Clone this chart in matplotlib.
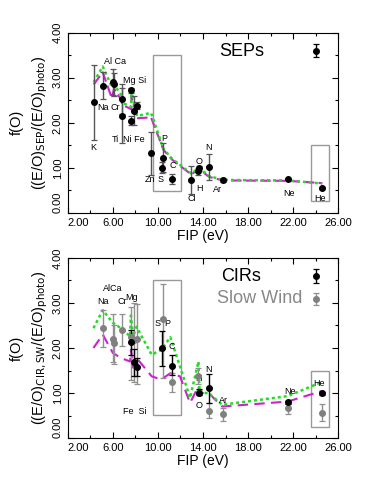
import matplotlib.pyplot as plt
from matplotlib.patches import Rectangle
from matplotlib.ticker import FixedLocator, FormatStrFormatter

plt.rcParams['font.family'] = ['Liberation Sans', 'DejaVu Sans']

# ---- SEP panel data ----
sep_fip = [4.34, 5.14, 5.99, 6.11, 6.77, 6.83, 7.64, 7.65, 7.90, 8.15, 9.39,
           10.36, 10.49, 11.26, 12.97, 13.60, 13.62, 14.53, 15.76, 21.56, 24.59]
sep_val = [2.45, 2.82, 2.91, 2.85, 2.52, 2.16, 2.05, 2.72, 2.27, 2.37, 1.32,
           0.99, 1.22, 0.75, 0.72, 0.92, 1.00, 1.01, 0.72, 0.75, 0.56]
sep_lo = [1.62, 2.52, 2.62, 2.60, 2.20, 1.55, 1.95, 2.65, 1.95, 2.30, 0.85,
          0.88, 0.90, 0.65, 0.42, 0.85, 0.92, 0.72, 0.68, 0.72, 0.54]
sep_hi = [3.28, 3.12, 3.20, 3.10, 2.85, 2.78, 2.15, 2.78, 2.60, 2.45, 1.80,
          1.12, 1.55, 0.86, 1.03, 1.00, 1.03, 1.30, 0.78, 0.78, 0.58]

sep_model_x = [4.30, 5.10, 5.90, 6.11, 6.77, 6.83, 7.64, 7.65, 7.90, 8.15,
               9.39, 10.49, 11.26, 12.97, 13.62, 14.53, 15.76, 21.56, 24.59]
sep_green = [2.90, 3.25, 2.80, 2.85, 2.60, 2.45, 2.35, 2.72, 2.45, 2.15,
             2.22, 1.42, 1.20, 0.87, 1.00, 0.82, 0.73, 0.72, 0.65]
sep_magenta = [2.85, 3.12, 2.55, 2.75, 2.50, 2.40, 2.30, 2.60, 2.35, 2.10,
               2.12, 1.40, 1.18, 0.85, 0.98, 0.80, 0.72, 0.71, 0.66]

sep_labels = [("Al Ca", 6.2, 3.36), ("Na", 5.1, 2.33), ("Cr", 6.2, 2.33),
              ("Mg Si", 7.97, 2.94), ("K", 4.22, 1.44), ("Ti", 6.2, 1.63),
              ("Ni Fe", 7.82, 1.63), ("Zn", 9.3, 0.74), ("S", 10.19, 0.74),
              ("P", 10.6, 1.64), ("C", 11.34, 1.05), ("Cl", 12.97, 0.32),
              ("H", 13.65, 0.54), ("O", 13.65, 1.15), ("N", 14.53, 1.44),
              ("Ar", 15.27, 0.52), ("Ne", 21.66, 0.43), ("He", 24.38, 0.32)]

# ---- CIR / slow wind panel data ----
cir_fip = [7.62, 7.85, 8.15, 10.36, 11.26, 13.62, 14.53, 21.56, 24.59]
cir_val = [2.13, 1.68, 1.57, 1.99, 1.61, 1.01, 1.11, 0.79, 0.99]
cir_lo = [1.85, 1.38, 1.38, 1.59, 1.40, 0.95, 0.78, 0.75, 0.95]
cir_hi = [2.40, 1.98, 1.78, 2.38, 1.85, 1.08, 1.43, 0.83, 1.03]

sw_fip = [5.14, 5.99, 6.11, 6.77, 7.62, 7.90, 8.15, 10.49, 11.26, 13.60,
          13.62, 14.53, 15.76, 21.56, 24.59]
sw_val = [2.44, 2.20, 2.10, 2.40, 2.24, 2.18, 2.20, 2.64, 1.24, 1.37,
          1.01, 0.61, 0.53, 0.67, 0.56]
sw_lo = [2.03, 1.68, 1.65, 2.04, 1.30, 1.25, 1.20, 1.33, 1.02, 1.20,
         0.95, 0.45, 0.39, 0.53, 0.38]
sw_hi = [2.85, 2.75, 2.50, 2.75, 2.90, 3.00, 2.98, 3.43, 1.45, 1.55,
         1.07, 0.78, 0.67, 0.81, 0.75]

cir_model_x = [4.28, 5.10, 6.00, 6.70, 7.53, 7.60, 7.80, 8.10, 9.45, 10.30,
               11.10, 11.96, 12.85, 13.60, 13.70, 14.50, 15.70, 21.50, 24.50]
cir_green = [2.44, 2.84, 2.56, 2.44, 2.26, 2.72, 2.26, 2.47, 1.85, 1.96,
             2.24, 1.59, 0.89, 1.70, 1.00, 1.00, 0.74, 0.93, 1.24]
cir_magenta = [2.00, 2.30, 1.89, 1.78, 1.70, 1.96, 1.56, 1.78, 1.37, 1.30,
               1.44, 1.37, 0.78, 1.15, 1.00, 1.00, 0.70, 0.81, 1.04]

cir_labels = [("AlCa", 5.96, 3.33), ("Na", 5.1, 3.04), ("Cr", 6.79, 3.04),
              ("Mg", 7.62, 3.13), ("S", 9.98, 2.54), ("P", 10.87, 2.54),
              ("C", 11.22, 2.04), ("Fe  Si", 7.97, 0.59), ("H", 13.6, 1.33),
              ("O", 13.65, 0.73), ("N", 14.53, 1.53), ("Ar", 15.86, 0.84),
              ("Ne", 21.72, 1.04), ("He", 24.32, 1.22)]

x_major = [2, 6, 10, 14, 18, 22, 26]
x_minor = [4, 8, 12, 16, 20, 24]
y_major = [0, 1, 2, 3, 4]
y_minor = [0.5, 1.5, 2.5, 3.5]


def style_axes(ax):
    ax.set_xlim(2, 26)
    ax.set_ylim(0, 4)
    ax.xaxis.set_major_locator(FixedLocator(x_major))
    ax.xaxis.set_minor_locator(FixedLocator(x_minor))
    ax.yaxis.set_major_locator(FixedLocator(y_major))
    ax.yaxis.set_minor_locator(FixedLocator(y_minor))
    ax.xaxis.set_major_formatter(FormatStrFormatter('%.2f'))
    ax.yaxis.set_major_formatter(FormatStrFormatter('%.2f'))
    ax.tick_params(which='both', direction='in', top=True, right=True,
                   labelsize=8, width=0.8)
    ax.tick_params(which='major', length=4)
    ax.tick_params(which='minor', length=2.5)
    ylabs = ax.get_yticklabels()
    for lab in ylabs:
        lab.set_rotation(90)
        lab.set_va('center')
    ylabs[0].set_va('bottom')
    ax.get_xticklabels()[0].set_ha('left')
    ax.set_xlabel("FIP (eV)", fontsize=10, labelpad=1)


def errbar(ax, x, y, lo, hi, color, ecolor):
    yerr = [[v - l for v, l in zip(y, lo)], [h - v for v, h in zip(y, hi)]]
    ax.errorbar(x, y, yerr=yerr, fmt='o', color=color, ecolor=ecolor,
                markersize=4, capsize=2.5, elinewidth=1.0, capthick=0.9, zorder=4)


fig = plt.figure(figsize=(3.83, 4.95), dpi=100)
ax1 = fig.add_axes([0.177, 0.570, 0.706, 0.364])
ax2 = fig.add_axes([0.177, 0.115, 0.706, 0.364])

# top panel
ax1.plot(sep_model_x, sep_magenta, color='#cc22cc', ls=(0, (5, 2)), lw=1.5, zorder=2)
ax1.plot(sep_model_x, sep_green, color='#22dd22', ls=(0, (1.2, 1.2)), lw=1.8, zorder=3)
errbar(ax1, sep_fip, sep_val, sep_lo, sep_hi, 'black', '#555555')
errbar(ax1, [24.0], [3.6], [3.45], [3.75], 'black', 'black')
ax1.add_patch(Rectangle((9.6, 0.48), 2.42, 3.02, fill=False, ec='#999999', lw=1.0))
ax1.add_patch(Rectangle((23.55, 0.26), 1.63, 1.24, fill=False, ec='#999999', lw=1.0))
for t, x, y in sep_labels:
    ax1.text(x, y, t, fontsize=6.5, ha='center', va='center')
ax1.text(17.4, 3.58, "SEPs", fontsize=13, ha='center', va='center')
ax1.set_ylabel("f(O)\n((E/O)$_{\\mathrm{SEP}}$/(E/O)$_{\\mathrm{photo}}$)",
               fontsize=10.5, linespacing=1.5, labelpad=2)
style_axes(ax1)

# bottom panel
ax2.plot(cir_model_x, cir_magenta, color='#cc22cc', ls=(0, (5, 3)), lw=1.5, zorder=2)
ax2.plot(cir_model_x, cir_green, color='#22dd22', ls=(0, (1.2, 1.2)), lw=1.8, zorder=3)
errbar(ax2, sw_fip, sw_val, sw_lo, sw_hi, '#808080', '#909090')
errbar(ax2, cir_fip, cir_val, cir_lo, cir_hi, 'black', 'black')
errbar(ax2, [24.0], [3.6], [3.45], [3.75], 'black', 'black')
errbar(ax2, [24.0], [3.08], [2.95], [3.22], '#808080', '#909090')
ax2.add_patch(Rectangle((9.6, 0.52), 2.42, 2.98, fill=False, ec='#999999', lw=1.0))
ax2.add_patch(Rectangle((23.55, 0.24), 1.63, 1.26, fill=False, ec='#999999', lw=1.0))
for t, x, y in cir_labels:
    ax2.text(x, y, t, fontsize=6.5, ha='center', va='center')
ax2.text(17.4, 3.59, "CIRs", fontsize=13, ha='center', va='center')
ax2.text(19.0, 3.09, "Slow Wind", fontsize=13, ha='center', va='center', color='#888888')
ax2.set_ylabel("f(O)\n((E/O)$_{\\mathrm{CIR,SW}}$/(E/O)$_{\\mathrm{photo}}$)",
               fontsize=10.5, linespacing=1.5, labelpad=2)
style_axes(ax2)

fig.savefig("out.png", dpi=100)
